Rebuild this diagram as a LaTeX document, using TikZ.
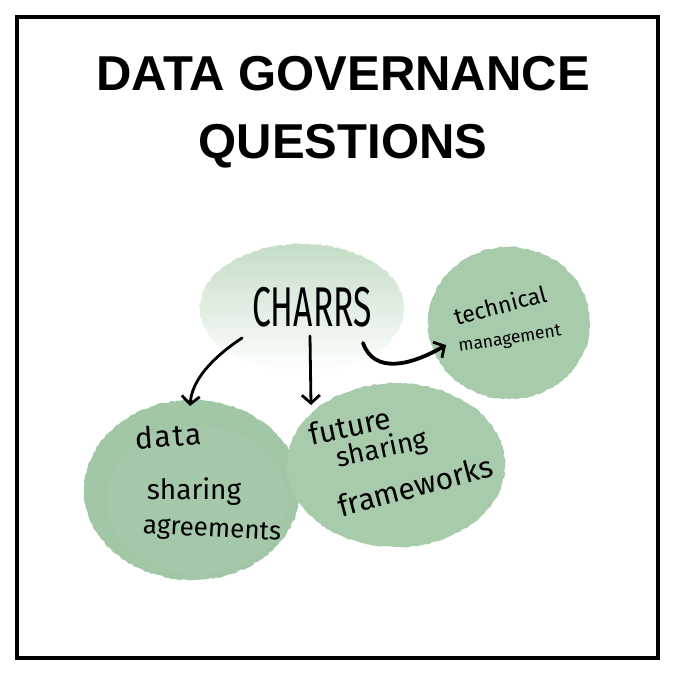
\documentclass[tikz,border=0pt]{standalone}
\usepackage{fontspec}
\setmainfont{Liberation Sans}
\newfontfamily\hand{Fira Sans}
\usetikzlibrary{arrows.meta,shapes.geometric,decorations.pathmorphing,calc}
\definecolor{sage}{RGB}{168,203,172}
\definecolor{sagedark}{RGB}{162,199,167}
\definecolor{sagelight}{RGB}{196,221,198}
\begin{document}
\begin{tikzpicture}[x=1pt,y=-1pt,
  hand/.style={text=black, inner sep=0pt},
  arr/.style={line width=2.8pt, line cap=round, -{Straight Barb[length=8pt,width=18pt,line width=2.8pt]}},
  blob/.style={decorate, decoration={random steps, segment length=3pt, amplitude=0.8pt}}]
\pgfmathsetseed{7}
\useasboundingbox (0,0) rectangle (680,680);
\fill[white] (0,0) rectangle (680,680);
\draw[line width=4pt] (17,17) rectangle (657.5,657.5);
% title
\node[anchor=base, font=\fontsize{49}{58}\selectfont\bfseries] (t1) at (343,90) {DATA GOVERNANCE};
\node[anchor=base, font=\fontsize{49}{58}\selectfont\bfseries] (t2) at (343,158) {QUESTIONS};
% blobs
\coordinate (bc) at (302,308);
\coordinate (bt) at (509,323);
\coordinate (bd) at (192,490);
\coordinate (bf) at (396,465);
\shade[blob, top color=sagelight, middle color=sagelight!65, bottom color=white] (bc) ellipse [x radius=102, y radius=64];
\fill[blob, sage] (bt) ellipse [x radius=81, y radius=76];
\fill[blob, sagedark] (bd) ellipse [x radius=108, y radius=90];
\fill[sage, opacity=0.4] ($(bd)+(5,10)$) ellipse [x radius=90, y radius=74];
\fill[blob, sage] (bf) ellipse [x radius=109, y radius=82];
% texts
\node[hand, font=\hand\fontsize{56}{56}\selectfont, xscale=0.6] (charrs) at (312,307) {CHARRS};
\node[hand, font=\hand\fontsize{23}{23}\selectfont, rotate=15] (tech) at (500,305) {technical};
\node[hand, font=\hand\fontsize{17.5}{17.5}\selectfont, rotate=9] (mgmt) at (510,340) {management};
\node[hand, font=\hand\fontsize{30}{30}\selectfont\addfontfeature{LetterSpace=6}, rotate=4] (data) at (168,436) {data};
\node[hand, font=\hand\fontsize{28}{28}\selectfont] (sh1) at (194,492) {sharing};
\node[hand, font=\hand\fontsize{26}{26}\selectfont, rotate=-3] (agr) at (212,531) {agreements};
\node[hand, font=\hand\fontsize{30}{30}\selectfont, rotate=12] (fut) at (350,426) {future};
\node[hand, font=\hand\fontsize{27.5}{27.5}\selectfont, rotate=12] (sh2) at (382,450) {sharing};
\node[hand, font=\hand\fontsize{30}{30}\selectfont, rotate=15] (fw) at (415,486) {frameworks};
% arrows
\coordinate (a1s) at (242,338);
\coordinate (a1e) at (190,406);
\coordinate (a2s) at (310,336);
\coordinate (a2e) at (311,405);
\coordinate (a3s) at (363,343);
\coordinate (a3e) at (446,345);
\draw[arr] (a1s) .. controls (212,358) and (192,380) .. (a1e);
\draw[arr] (a2s) -- (a2e);
\draw[arr, line width=3.8pt] (a3s) .. controls (374,374) and (410,366) .. (a3e);
\end{tikzpicture}
\end{document}
